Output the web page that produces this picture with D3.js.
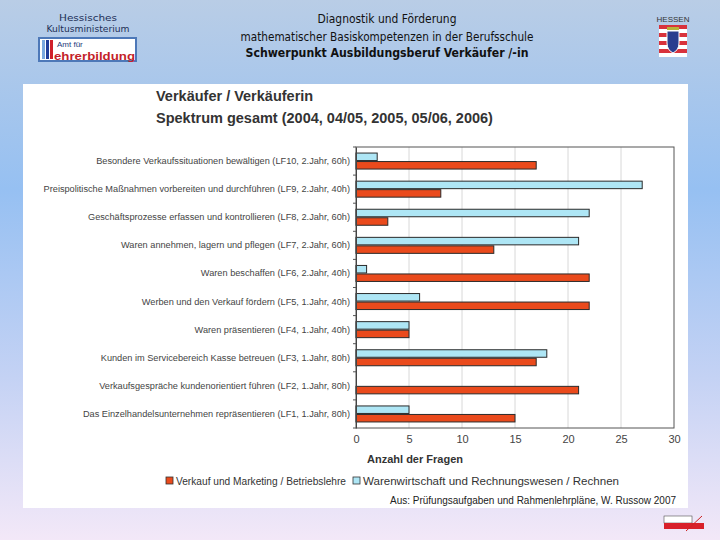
<!DOCTYPE html>
<html><head><meta charset="utf-8">
<script src="https://cdn.jsdelivr.net/npm/d3@7/dist/d3.min.js"></script>
<style>html,body{margin:0;padding:0;overflow:hidden;}</style>
</head><body>
<svg id="c" width="720" height="540"></svg>
<script>
const categories = [
  "Besondere Verkaufssituationen bewältigen (LF10, 2.Jahr, 60h)",
  "Preispolitische  Maßnahmen vorbereiten und durchführen (LF9, 2.Jahr, 40h)",
  "Geschäftsprozesse erfassen und kontrollieren (LF8, 2.Jahr, 60h)",
  "Waren annehmen, lagern und pflegen (LF7, 2.Jahr, 60h)",
  "Waren beschaffen (LF6, 2.Jahr, 40h)",
  "Werben und den Verkauf fördern (LF5, 1.Jahr, 40h)",
  "Waren präsentieren (LF4, 1.Jahr, 40h)",
  "Kunden im Servicebereich Kasse betreuen (LF3, 1.Jahr, 80h)",
  "Verkaufsgespräche kundenorientiert führen (LF2, 1.Jahr, 80h)",
  "Das Einzelhandelsunternehmen repräsentieren (LF1, 1.Jahr, 80h)"
];
const verkaufValues = [17, 8, 3, 13, 22, 22, 5, 17, 21, 15];
const warenValues   = [2, 27, 22, 21, 1, 6, 5, 18, 0, 5];
const xTicks = [0, 5, 10, 15, 20, 25, 30];
const seriesNames = ["Verkauf und Marketing / Betriebslehre", "Warenwirtschaft und Rechnungswesen / Rechnen"];
const headerLeft = ["Hessisches", "Kultusministerium"];
const headerCenter = ["Diagnostik und Förderung", "mathematischer Basiskompetenzen in der Berufsschule", "Schwerpunkt Ausbildungsberuf  Verkäufer /-in"];
const chartTitle = ["Verkäufer / Verkäuferin", "Spektrum gesamt (2004, 04/05, 2005, 05/06, 2006)"];
const axisTitle = "Anzahl der Fragen";
const sourceText = "Aus: Prüfungsaufgaben und Rahmenlehrpläne, W. Russow 2007";

const RED = "#ea4a1c", BLUE = "#aee6f5";
const svg = d3.select("#c");
const defs = svg.append("defs");
const g1 = defs.append("linearGradient").attr("id","bg").attr("x1",0).attr("y1",0).attr("x2",0).attr("y2",1);
g1.append("stop").attr("offset","0%").attr("stop-color","#b9cde6");
g1.append("stop").attr("offset","35%").attr("stop-color","#96c0f2");
g1.append("stop").attr("offset","70%").attr("stop-color","#c4d2f4");
g1.append("stop").attr("offset","100%").attr("stop-color","#f3e8f8");
svg.append("rect").attr("width",720).attr("height",540).attr("fill","url(#bg)");

// header left
const hlLen = [58, 83];
svg.selectAll(".hl").data(headerLeft).enter().append("text")
  .attr("x",88).attr("y",(d,i)=>21+i*11).attr("text-anchor","middle")
  .attr("font-family","DejaVu Sans Condensed, DejaVu Sans").attr("font-size",9.5)
  .attr("textLength",(d,i)=>hlLen[i]).attr("lengthAdjust","spacingAndGlyphs")
  .attr("fill","#1d2f57").text(d=>d);
// logo box
svg.append("rect").attr("x",39).attr("y",38).attr("width",97).attr("height",23).attr("fill","#fff").attr("stroke","#4d78b8").attr("stroke-width",2);
svg.append("rect").attr("x",42).attr("y",40).attr("width",3).attr("height",19).attr("fill","#7aa9e0");
svg.append("rect").attr("x",46).attr("y",40).attr("width",3).attr("height",19).attr("fill","#1f3e9a");
svg.append("rect").attr("x",50).attr("y",40).attr("width",3).attr("height",19).attr("fill","#d0202a");
svg.append("text").attr("x",57).attr("y",47).attr("font-family","Liberation Sans, Arial").attr("font-size",8).attr("fill","#233a7a").text("Amt für");
svg.append("text").attr("x",54).attr("y",59.5).attr("font-family","Liberation Sans, Arial").attr("font-weight","bold").attr("font-size",10.5).attr("fill","#c41f2a").attr("textLength",81).attr("lengthAdjust","spacingAndGlyphs").text("ehrerbildung");

// header center
const hcLen = [139, 293, 283];
svg.selectAll(".hc").data(headerCenter).enter().append("text")
  .attr("x",387).attr("y",(d,i)=>[23,41,57][i]).attr("text-anchor","middle")
  .attr("font-family","DejaVu Sans Condensed, DejaVu Sans").attr("font-size",11.5)
  .attr("font-weight",(d,i)=>i===2?"bold":"normal")
  .attr("textLength",(d,i)=>hcLen[i]).attr("lengthAdjust","spacingAndGlyphs")
  .attr("fill","#111").text(d=>d);

// Hessen logo
svg.append("text").attr("x",673).attr("y",22).attr("text-anchor","middle").attr("font-family","Liberation Sans, Arial").attr("font-size",8).attr("fill","#333").text("HESSEN");
const sh = svg.append("g").attr("transform","translate(659,25)");
for(let i=0;i<8;i++){ sh.append("rect").attr("x",0).attr("y",i*4).attr("width",28).attr("height",4).attr("fill",i%2?"#fff":"#d8323c"); }
sh.append("path").attr("d","M8,6 L20,6 L20,18 Q20,25 14,28 Q8,25 8,18 Z").attr("fill","#2a3d8f").attr("stroke","#fff");
sh.append("rect").attr("x",8).attr("y",2).attr("width",12).attr("height",3).attr("fill","#b9b23a");

// white panel
svg.append("rect").attr("x",23).attr("y",84).attr("width",665).attr("height",424).attr("fill","#fff");

// chart title
svg.selectAll(".ct").data(chartTitle).enter().append("text")
  .attr("x",156).attr("y",(d,i)=>101+i*22)
  .attr("font-family","Liberation Sans, Arial").attr("font-weight","bold").attr("font-size",14.5)
  .attr("fill","#333").text(d=>d);

const x = d3.scaleLinear().domain([0,30]).range([356,674]);
const y = d3.scaleBand().domain(categories).range([147,428]);

// grid
svg.selectAll(".grid").data(xTicks.slice(1,-1)).enter().append("line")
  .attr("x1",d=>x(d)).attr("x2",d=>x(d)).attr("y1",147).attr("y2",428)
  .attr("stroke","#d8d8d8").attr("stroke-width",1);
// plot border
svg.append("rect").attr("x",356).attr("y",147).attr("width",318).attr("height",281).attr("fill","none").attr("stroke","#555").attr("stroke-width",1);

const bh = 7.5;
const rows = categories.map((c,i)=>({c, r:verkaufValues[i], b:warenValues[i]}));
svg.selectAll(".bb").data(rows.filter(d=>d.b>0)).enter().append("rect")
  .attr("x",x(0)).attr("y",d=>y(d.c)+y.bandwidth()/2-bh-0.5).attr("width",d=>x(d.b)-x(0)).attr("height",bh)
  .attr("fill",BLUE).attr("stroke","#2a2a2a").attr("stroke-width",1);
svg.selectAll(".rb").data(rows).enter().append("rect")
  .attr("x",x(0)).attr("y",d=>y(d.c)+y.bandwidth()/2+0.5).attr("width",d=>x(d.r)-x(0)).attr("height",bh)
  .attr("fill",RED).attr("stroke","#2a2a2a").attr("stroke-width",1);

// y axis
const ya = svg.append("g").attr("transform","translate(356,0)")
  .call(d3.axisLeft(y).tickSize(0).tickPadding(6));
ya.select(".domain").attr("stroke","#444");
ya.selectAll("text").attr("font-family","Liberation Sans, Arial").attr("font-size",9.2).attr("fill","#444");
// small ticks at band boundaries
svg.selectAll(".yt").data(d3.range(categories.length+1)).enter().append("line")
  .attr("x1",353).attr("x2",356).attr("y1",i=>147+i*y.step()).attr("y2",i=>147+i*y.step())
  .attr("stroke","#555");

// x axis
const xa = svg.append("g").attr("transform","translate(0,428)")
  .call(d3.axisBottom(x).tickValues(xTicks).tickSize(0).tickPadding(7));
xa.select(".domain").remove();
xa.selectAll("text").attr("font-family","Liberation Sans, Arial").attr("font-size",11).attr("fill","#444");
svg.append("text").attr("x",415).attr("y",463).attr("text-anchor","middle")
  .attr("font-family","Liberation Sans, Arial").attr("font-weight","bold").attr("font-size",11).attr("fill","#333").text(axisTitle);

// legend
const lg = svg.append("g");
const lx = [166, 353];
const lLen = [170, 256];
seriesNames.forEach((s,i)=>{
  lg.append("rect").attr("x",lx[i]).attr("y",477).attr("width",7).attr("height",7)
    .attr("fill",i===0?RED:BLUE).attr("stroke","#333").attr("stroke-width",0.8);
  lg.append("text").attr("x",lx[i]+10).attr("y",484.5).attr("font-family","Liberation Sans, Arial").attr("font-size",10.5)
    .attr("textLength",lLen[i]).attr("lengthAdjust","spacingAndGlyphs").attr("fill","#333").text(s);
});
svg.append("text").attr("x",676).attr("y",504).attr("text-anchor","end")
  .attr("font-family","Liberation Sans, Arial").attr("font-size",10.5).attr("textLength",286).attr("lengthAdjust","spacingAndGlyphs")
  .attr("fill","#222").text(sourceText);

// bottom-right logo
const bl = svg.append("g").attr("transform","translate(664,516)");
bl.append("rect").attr("width",28).attr("height",7).attr("fill","#fff").attr("stroke","#333").attr("stroke-width",0.5);
bl.append("rect").attr("y",7).attr("width",40).attr("height",6).attr("fill","#d8202a");
bl.append("line").attr("x1",22).attr("y1",15).attr("x2",38).attr("y2",0).attr("stroke","#c22").attr("stroke-width",1);
</script>
</body></html>
